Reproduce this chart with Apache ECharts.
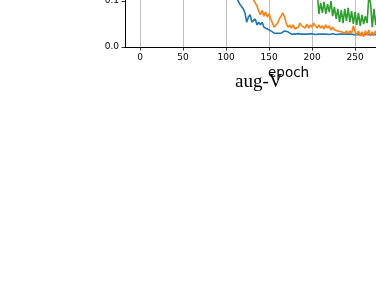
<!DOCTYPE html>
<html>
<head>
<meta charset="utf-8">
<script src="https://cdn.jsdelivr.net/npm/echarts@6/dist/echarts.min.js"></script>
<style>
html,body{margin:0;padding:0;background:#fff;}
#c{width:376px;height:290px;}
</style>
</head>
<body>
<div id="c"></div>
<script>
const epochs = [100,102,104,106,108,110,112,114,116,118,120,122,124,126,128,130,132,134,136,138,140,142,144,146,148,150,152,154,156,158,160,162,164,166,168,170,172,174,176,178,180,182,184,186,188,190,192,194,196,198,200,202,204,206,208,210,212,214,216,218,220,222,224,226,228,230,232,234,236,238,240,242,244,246,248,250,252,254,256,258,260,262,264,266,268,270,272,274,276];

const blueValues = [null,null,null,null,0.17,0.13,0.115,0.1,0.093,0.093,0.083,0.074,0.054,0.065,0.070,0.054,0.050,0.061,0.048,0.054,0.048,0.054,0.043,0.046,0.039,0.037,0.035,0.033,0.030,0.033,0.030,0.028,0.030,0.033,0.035,0.037,0.033,0.030,0.028,0.029,0.028,0.028,0.029,0.027,0.028,0.029,0.028,0.027,0.028,0.028,0.029,0.028,0.027,0.028,0.028,0.029,0.028,0.027,0.028,0.028,0.027,0.028,0.029,0.028,0.027,0.028,0.028,0.027,0.028,0.029,0.028,0.027,0.028,0.028,0.027,0.028,0.027,0.028,0.027,0.028,0.027,0.027,0.028,0.027,0.026,0.027,0.027,0.026,0.027];

const orangeValues = [null,null,null,null,null,null,null,null,null,null,null,null,null,0.15,0.13,0.115,0.102,0.096,0.089,0.078,0.070,0.080,0.067,0.076,0.065,0.072,0.061,0.052,0.043,0.046,0.052,0.061,0.067,0.074,0.065,0.052,0.043,0.048,0.041,0.048,0.039,0.037,0.043,0.052,0.046,0.050,0.041,0.050,0.041,0.048,0.043,0.052,0.046,0.041,0.048,0.041,0.046,0.039,0.048,0.041,0.046,0.037,0.043,0.037,0.041,0.035,0.039,0.033,0.037,0.030,0.035,0.030,0.035,0.030,0.046,0.033,0.026,0.035,0.024,0.033,0.022,0.035,0.026,0.037,0.024,0.033,0.026,0.035,0.028];

const greenValues = [null,null,null,null,null,null,null,null,null,null,null,null,null,null,null,null,null,null,null,null,null,null,null,null,null,null,null,null,null,null,null,null,null,null,null,null,null,null,null,null,null,null,null,null,null,null,null,null,null,null,null,null,0.16,0.12,0.072,0.096,0.074,0.098,0.072,0.093,0.076,0.100,0.067,0.087,0.061,0.083,0.054,0.080,0.052,0.083,0.057,0.085,0.054,0.078,0.050,0.076,0.048,0.074,0.046,0.070,0.050,0.067,0.052,0.110,0.096,0.043,0.083,0.048,0.080];

const xTickLabels = [0,50,100,150,200,250,300];
const yTickLabels = [0.0,0.1,0.2,0.3,0.4,0.5];

function pairs(vals){ return epochs.map((e,i)=>[e, vals[i]]); }

const chart = echarts.init(document.getElementById('c'), null, {renderer:'canvas'});
const lineStyle = (c)=>({color:c, width:1.6});
chart.setOption({
  animation:false,
  backgroundColor:'#ffffff',
  grid:{left:125, top:-183, height:230, width:301, containLabel:false, outerBoundsMode:'none'},
  xAxis:{
    type:'value', min:-17.5, max:332.5,
    axisLine:{show:true, onZero:false, lineStyle:{color:'#000', width:1}},
    axisTick:{show:true, length:3.5, customValues:xTickLabels, lineStyle:{color:'#000', width:0.8}},
    axisLabel:{customValues:xTickLabels, margin:6, color:'#000', fontSize:9, fontFamily:'DejaVu Sans', formatter:v=>String(v)},
    splitLine:{show:true, lineStyle:{color:'#b0b0b0', width:0.8}}
  },
  yAxis:{
    type:'value', min:0, max:0.5, interval:0.1,
    axisLine:{show:true, onZero:false, lineStyle:{color:'#000', width:1}},
    axisTick:{show:true, length:3.5, lineStyle:{color:'#000', width:0.8}},
    axisLabel:{margin:6, color:'#000', fontSize:9, fontFamily:'DejaVu Sans', formatter:v=>v.toFixed(1)},
    splitLine:{show:false}
  },
  series:[
    {type:'line', data:pairs(blueValues), showSymbol:false, lineStyle:lineStyle('#1f77b4'), itemStyle:{color:'#1f77b4'}, clip:true},
    {type:'line', data:pairs(orangeValues), showSymbol:false, lineStyle:lineStyle('#ff7f0e'), itemStyle:{color:'#ff7f0e'}, clip:true},
    {type:'line', data:pairs(greenValues), showSymbol:false, lineStyle:lineStyle('#2ca02c'), itemStyle:{color:'#2ca02c'}, clip:true}
  ],
  graphic:[
    {type:'text', left:268, top:66, style:{text:'epoch', fontFamily:'DejaVu Sans', fontSize:13.5, fill:'#000'}},
    {type:'text', left:235, top:73, style:{text:'aug-V', fontFamily:'Liberation Serif', fontSize:19, fill:'#000'}}
  ]
});
</script>
</body>
</html>
